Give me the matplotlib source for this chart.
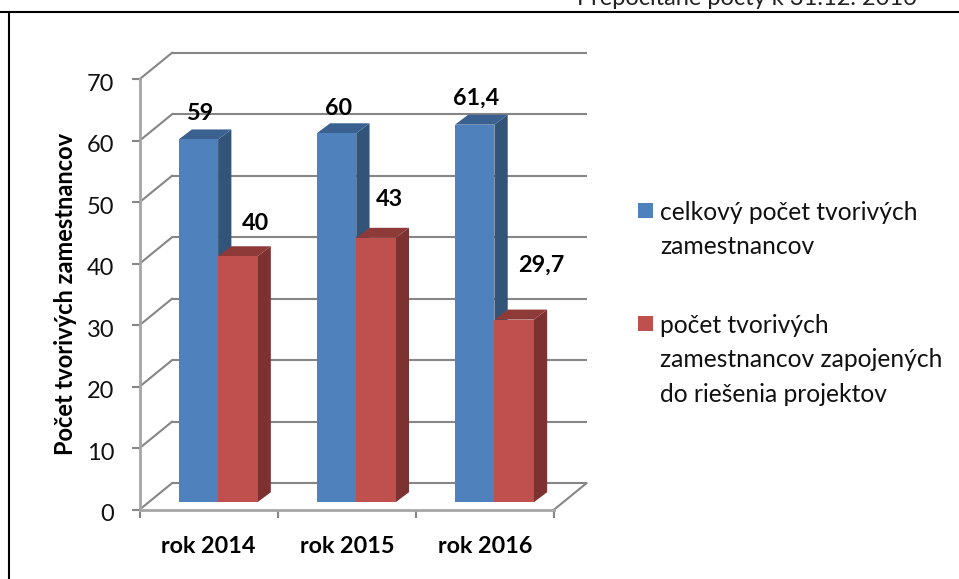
import matplotlib
matplotlib.use("Agg")
import matplotlib.pyplot as plt
from matplotlib.transforms import ScaledTranslation
from matplotlib.patches import Rectangle, Polygon

plt.rcParams['font.family'] = ['Lato', 'DejaVu Sans']

categories = ["rok 2014", "rok 2015", "rok 2016"]
series_names = ["celkový počet tvorivých\nzamestnancov",
                "počet tvorivých\nzamestnancov zapojených\ndo riešenia projektov"]
total_staff = [59, 60, 61.4]
project_staff = [40, 43, 29.7]
value_labels = [["59", "60", "61,4"], ["40", "43", "29,7"]]
y_ticks = [0, 10, 20, 30, 40, 50, 60, 70]
y_title = "Počet tvorivých zamestnancov"
note = "Prepočítané počty k 31.12. 2016"

W, H, DPI = 959, 579, 100
fig = plt.figure(figsize=(W / DPI, H / DPI), dpi=DPI)
AX_L, AX_R, AX_T, AX_B = 139.5, 554, 79.3, 509.7
ax = fig.add_axes([AX_L / W, 1 - AX_B / H, (AX_R - AX_L) / W, (AX_B - AX_T) / H])
ax.set_xlim(0, 3)
ax.set_ylim(0, 70)
ax.patch.set_visible(False)
for s in ax.spines.values():
    s.set_visible(False)

def shift(dx_px, dy_px):
    return ax.transData + ScaledTranslation(dx_px / DPI, dy_px / DPI, fig.dpi_scale_trans)

GRID = "#868686"
BACK = (32.5, 26.5)
back_tr = shift(*BACK)

for v in y_ticks:
    ax.plot([0, 3], [v, v], color=GRID, lw=1.5, transform=back_tr, clip_on=False, zorder=1,
            solid_capstyle='butt')
    p0 = ax.transData.transform((0, v))
    ax.add_line(plt.Line2D([p0[0], p0[0] + BACK[0]], [p0[1], p0[1] + BACK[1]], color=GRID, lw=1.5,
                           transform=None, zorder=1, clip_on=False))
p3 = ax.transData.transform((3, 0))
ax.add_line(plt.Line2D([p3[0], p3[0] + BACK[0]], [p3[1], p3[1] + BACK[1]], color=GRID, lw=1.5,
                       transform=None, zorder=1, clip_on=False))
ax.plot([0, 0], [0, 70], color="#A6A6A6", lw=2, clip_on=False, zorder=2)
ax.plot([0, 3], [0, 0], color="#A6A6A6", lw=2, clip_on=False, zorder=2)

ax.set_yticks(y_ticks)
ax.set_xticks([0, 1, 2, 3])
ax.set_xticklabels([])
ax.tick_params(axis='both', color=GRID, width=1.5, length=5.6, labelsize=17, labelcolor="#111111")
ax.tick_params(axis='y', pad=12.5)
for lab in ax.get_yticklabels():
    lab.set_transform(lab.get_transform() + ScaledTranslation(0, -3 / DPI, fig.dpi_scale_trans))
for i, c in enumerate(categories):
    ax.annotate(c, (i + 0.5, 0), xytext=(0, -37), textcoords='offset pixels', ha='center', va='center',
                fontsize=16.8, fontweight='bold', color='black', annotation_clip=False)
ax.set_ylabel(y_title, fontsize=17, fontweight='bold', color='black', labelpad=0)
ax.yaxis.set_label_coords((77 - AX_L) / (AX_R - AX_L), (AX_B - 294) / (AX_B - AX_T))

FRONT = (9.5, 7.5)
DEPTH = (13.3, 10)
BAR_W = 0.2855
front_tr = shift(*FRONT)

def draw_series(values, sign, face, side, top):
    xs = [i + 0.5 + sign * BAR_W / 2 for i in range(len(values))]
    ax.bar(xs, values, width=BAR_W, color=face, transform=front_tr, clip_on=False, zorder=4)
    for x, v in zip(xs, values):
        x0, x1 = x - BAR_W / 2, x + BAR_W / 2
        (ax0, ay0), (ax1, ay1) = ax.transData.transform([(x0, v), (x1, v)])
        (_, by1) = ax.transData.transform((x1, 0))
        fx, fy = FRONT
        dx, dy = DEPTH
        ax.add_patch(Polygon([(ax1 + fx, by1 + fy), (ax1 + fx + dx, by1 + fy + dy),
                              (ax1 + fx + dx, ay1 + fy + dy), (ax1 + fx, ay1 + fy)],
                             closed=True, fc=side, ec='none', transform=None, zorder=3, clip_on=False))
        ax.add_patch(Polygon([(ax0 + fx, ay0 + fy), (ax0 + fx + dx, ay0 + fy + dy),
                              (ax1 + fx + dx, ay1 + fy + dy), (ax1 + fx, ay1 + fy)],
                             closed=True, fc=top, ec='none', transform=None, zorder=3, clip_on=False))
    return xs

BLUE, BLUE_S, BLUE_T = "#4F81BD", "#325479", "#3A6190"
RED, RED_S, RED_T = "#C0504D", "#7D3130", "#8E3A38"
xb = draw_series(total_staff, -1, BLUE, BLUE_S, BLUE_T)
xr = draw_series(project_staff, 1, RED, RED_S, RED_T)

label_offsets = [[(2, 25.5), (2, 24.5), (1.5, 26.5)], [(18, 32.5), (13.5, 38.5), (27, 54.5)]]
for xs, vals, texts, offs in zip([xb, xr], [total_staff, project_staff], value_labels, label_offsets):
    for x, v, t, o in zip(xs, vals, texts, offs):
        ax.annotate(t, (x, v), xytext=(FRONT[0] + o[0], FRONT[1] + o[1]), textcoords='offset pixels',
                    ha='center', va='center', fontsize=16.8, fontweight='bold', color='black',
                    zorder=6, annotation_clip=False)

for y, name, col in zip([210.5, 323.5], series_names, [BLUE, RED]):
    fig.add_artist(Rectangle((638 / W, 1 - (y + 7.5) / H), 15 / W, 15 / H, transform=fig.transFigure,
                             fc=col, ec='none'))
    fig.text(660 / W, 1 - (y - 9.5) / H, name, fontsize=17.7, color="#111111", va='top', ha='left',
             linespacing=1.6)

fig.add_artist(plt.Line2D([0, 1], [1 - 11.5 / H] * 2, color='black', lw=1.5, transform=fig.transFigure))
fig.add_artist(plt.Line2D([9 / W] * 2, [0, 1 - 11.5 / H], color='black', lw=1.5, transform=fig.transFigure))
fig.text(577 / W, 1 - 5 / H, note, fontsize=17.05, color="#222222", va='baseline', ha='left')

fig.savefig("out.png", dpi=DPI)
